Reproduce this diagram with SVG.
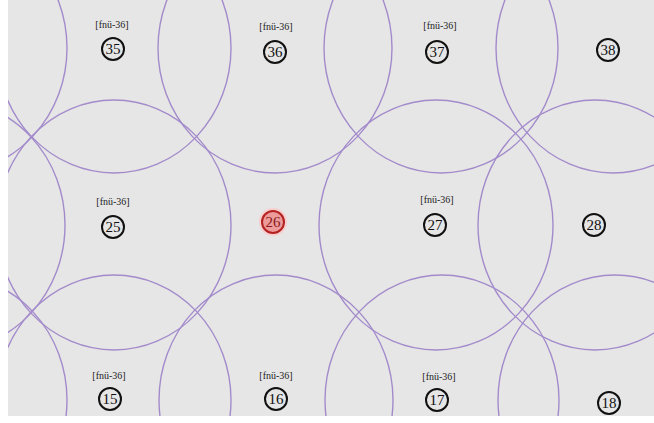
<svg xmlns="http://www.w3.org/2000/svg" width="654" height="423" viewBox="0 0 654 423">
  <defs>
    <clipPath id="area"><rect x="8" y="0" width="646" height="416"/></clipPath>
    <style>
      .ring { fill: none; stroke: #a38bcb; stroke-width: 1.4; }
      .node circle { fill: none; stroke: #111; stroke-width: 2; }
      .num { font-family: "Liberation Serif", serif; font-size: 15px; fill: #111; text-anchor: middle; }
      .lbl { font-family: "Liberation Serif", serif; font-size: 10px; fill: #222; text-anchor: middle; }
    </style>
  </defs>
  <rect x="0" y="0" width="654" height="423" fill="#ffffff"/>
  <rect x="8" y="0" width="646" height="416" fill="#e6e6e6"/>

  <g id="connectors" clip-path="url(#area)">
    <ellipse class="ring" cx="-50" cy="48" rx="117" ry="125"/>
    <ellipse class="ring" cx="114" cy="48" rx="117" ry="125"/>
    <ellipse class="ring" cx="275" cy="48" rx="117" ry="125"/>
    <ellipse class="ring" cx="441" cy="48" rx="117" ry="125"/>
    <ellipse class="ring" cx="613" cy="48" rx="117" ry="125"/>
    <ellipse class="ring" cx="-52" cy="225" rx="117" ry="125"/>
    <ellipse class="ring" cx="114" cy="225" rx="117" ry="125"/>
    <ellipse class="ring" cx="436" cy="225" rx="117" ry="125"/>
    <ellipse class="ring" cx="595" cy="225" rx="117" ry="125"/>
    <ellipse class="ring" cx="-50" cy="400" rx="117" ry="125"/>
    <ellipse class="ring" cx="114" cy="400" rx="117" ry="125"/>
    <ellipse class="ring" cx="276" cy="400" rx="117" ry="125"/>
    <ellipse class="ring" cx="442" cy="400" rx="117" ry="125"/>
    <ellipse class="ring" cx="615" cy="400" rx="117" ry="125"/>
  </g>

  <g id="n35" class="node"><text class="lbl" x="112" y="28">[fnü-36]</text><circle cx="113" cy="49" r="11"/><text class="num" x="113" y="54">35</text></g>
  <g id="n36" class="node"><text class="lbl" x="276" y="30">[fnü-36]</text><circle cx="275" cy="52" r="11"/><text class="num" x="275" y="57">36</text></g>
  <g id="n37" class="node"><text class="lbl" x="440" y="29">[fnü-36]</text><circle cx="437" cy="52" r="11"/><text class="num" x="437" y="57">37</text></g>
  <g id="n38" class="node"><circle cx="608" cy="50" r="11"/><text class="num" x="608" y="55">38</text></g>

  <g id="n25" class="node"><text class="lbl" x="113" y="205">[fnü-36]</text><circle cx="113" cy="227" r="11"/><text class="num" x="113" y="232">25</text></g>
  <g id="n26">
    <circle cx="273" cy="222" r="14" fill="#f6cfcf" stroke="none"/>
    <circle cx="273" cy="222" r="11" fill="#ec9a9a" stroke="#b52222" stroke-width="2"/>
    <text class="num" x="273" y="227" style="fill:#8b1a1a">26</text>
  </g>
  <g id="n27" class="node"><text class="lbl" x="437" y="203">[fnü-36]</text><circle cx="435" cy="225" r="11"/><text class="num" x="435" y="230">27</text></g>
  <g id="n28" class="node"><circle cx="594" cy="225" r="11"/><text class="num" x="594" y="230">28</text></g>

  <g id="n15" class="node"><text class="lbl" x="109" y="379">[fnü-36]</text><circle cx="110" cy="399" r="11"/><text class="num" x="110" y="404">15</text></g>
  <g id="n16" class="node"><text class="lbl" x="276" y="379">[fnü-36]</text><circle cx="276" cy="399" r="11"/><text class="num" x="276" y="404">16</text></g>
  <g id="n17" class="node"><text class="lbl" x="439" y="380">[fnü-36]</text><circle cx="437" cy="400" r="11"/><text class="num" x="437" y="405">17</text></g>
  <g id="n18" class="node"><circle cx="609" cy="403" r="11"/><text class="num" x="609" y="408">18</text></g>
</svg>
